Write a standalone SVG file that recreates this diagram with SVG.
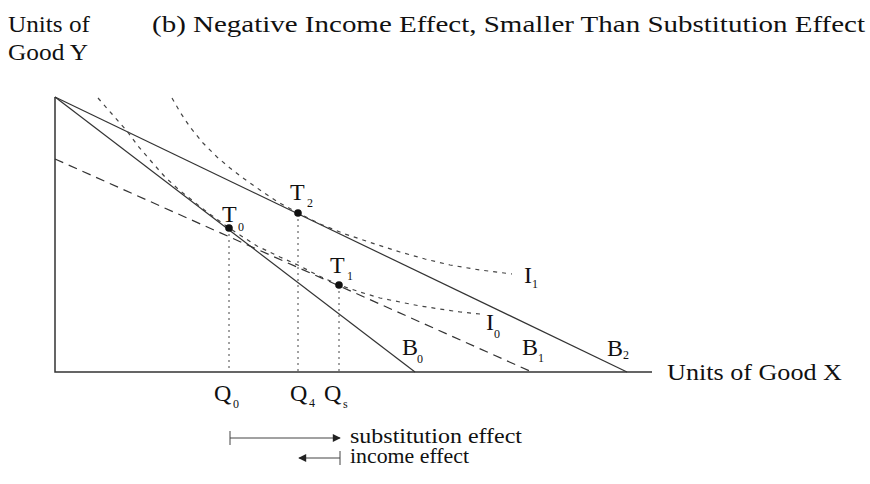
<svg xmlns="http://www.w3.org/2000/svg" width="870" height="484" viewBox="0 0 870 484">
<defs>
<style>
text{font-family:"Liberation Serif","DejaVu Serif",serif;fill:#111}
.lbl{font-size:24px}
.sub{font-size:12px}
.sm{font-size:20px}
.axis{stroke:#333;stroke-width:1.5;fill:none}
.solid{stroke:#333;stroke-width:1.2;fill:none}
.dash{stroke:#333;stroke-width:1.2;fill:none;stroke-dasharray:9 6}
.dot{stroke:#444;stroke-width:1.2;fill:none;stroke-dasharray:4 5}
.vdot{stroke:#444;stroke-width:1;fill:none;stroke-dasharray:2 4}
.arr{stroke:#444;stroke-width:1;fill:none}
</style>
<marker id="ah" viewBox="0 0 10 10" refX="9" refY="5" markerWidth="11" markerHeight="8" orient="auto" markerUnits="userSpaceOnUse">
<path d="M0,0 L10,5 L0,10 Z" fill="#222"/>
</marker>
</defs>
<rect width="870" height="484" fill="#fff"/>
<g id="titles">
<text class="lbl" x="8" y="32" textLength="82" lengthAdjust="spacingAndGlyphs">Units of</text>
<text class="lbl" x="8" y="60" textLength="80" lengthAdjust="spacingAndGlyphs">Good Y</text>
<text class="lbl" x="152" y="32" textLength="713" lengthAdjust="spacingAndGlyphs">(b) Negative Income Effect, Smaller Than Substitution Effect</text>
</g>
<g id="axes">
<path class="axis" d="M55,97 L55,372 L652,372"/>
<text class="lbl" x="667" y="380" textLength="175" lengthAdjust="spacingAndGlyphs">Units of Good X</text>
</g>
<g id="connectors">
<path id="B0-line" class="solid" d="M55,97 L415,372"/>
<path id="B2-line" class="solid" d="M55,97 L627,372"/>
<path id="B1-line" class="dash" d="M55,159 L532,372"/>
<polyline id="I0-curve" class="dot" points="98,98 112,114 127,131 138,146 150,160 165,177 178,189 193,201 207,212 229,228 257,246 280,257 300,266 317,275 339,285 360,292 380,298 400,302 420,306 440,309 460,312 480,314"/>
<polyline id="I1-curve" class="dot" points="172,98 180,112 190,127 203,143 217,157 230,168 243,178 260,190 278,202 298,213 320,224 345,234 375,244 400,252 425,259 450,265 480,270 512,274"/>
<path class="vdot" d="M229,228 L229,372 M298,213 L298,372 M339,285 L339,372"/>
</g>
<g id="T0"><circle cx="229" cy="228" r="3.8" fill="#111"/><text class="lbl" x="222" y="222">T</text><text class="sub" x="238" y="231">0</text></g>
<g id="T2"><circle cx="298" cy="213" r="3.8" fill="#111"/><text class="lbl" x="290" y="200">T</text><text class="sub" x="307" y="207">2</text></g>
<g id="T1"><circle cx="339" cy="285" r="3.8" fill="#111"/><text class="lbl" x="330" y="273">T</text><text class="sub" x="347" y="280">1</text></g>
<g id="I1"><text class="lbl" x="524" y="283">I</text><text class="sub" x="532" y="288">1</text></g>
<g id="I0"><text class="lbl" x="486" y="330">I</text><text class="sub" x="494" y="338">0</text></g>
<g id="B0"><text class="lbl" x="402" y="355">B</text><text class="sub" x="417" y="363">0</text></g>
<g id="B1"><text class="lbl" x="522" y="355">B</text><text class="sub" x="538" y="362">1</text></g>
<g id="B2"><text class="lbl" x="607" y="356">B</text><text class="sub" x="623" y="359">2</text></g>
<g id="Q0"><text class="lbl" x="214" y="401">Q</text><text class="sub" x="233" y="408">0</text></g>
<g id="Q4"><text class="lbl" x="290" y="401">Q</text><text class="sub" x="309" y="407">4</text></g>
<g id="Qs"><text class="lbl" x="324" y="401">Q</text><text class="sub" x="343" y="408">s</text></g>
<g id="legend">
<path class="arr" d="M230,431 L230,445 M230,438 L340,438" marker-end="url(#ah)"/>
<path class="arr" d="M340,451 L340,465 M340,458 L299,458" marker-end="url(#ah)"/>
<text class="sm" x="350" y="443" textLength="172" lengthAdjust="spacingAndGlyphs">substitution effect</text>
<text class="sm" x="350" y="463" textLength="119" lengthAdjust="spacingAndGlyphs">income effect</text>
</g>
</svg>
